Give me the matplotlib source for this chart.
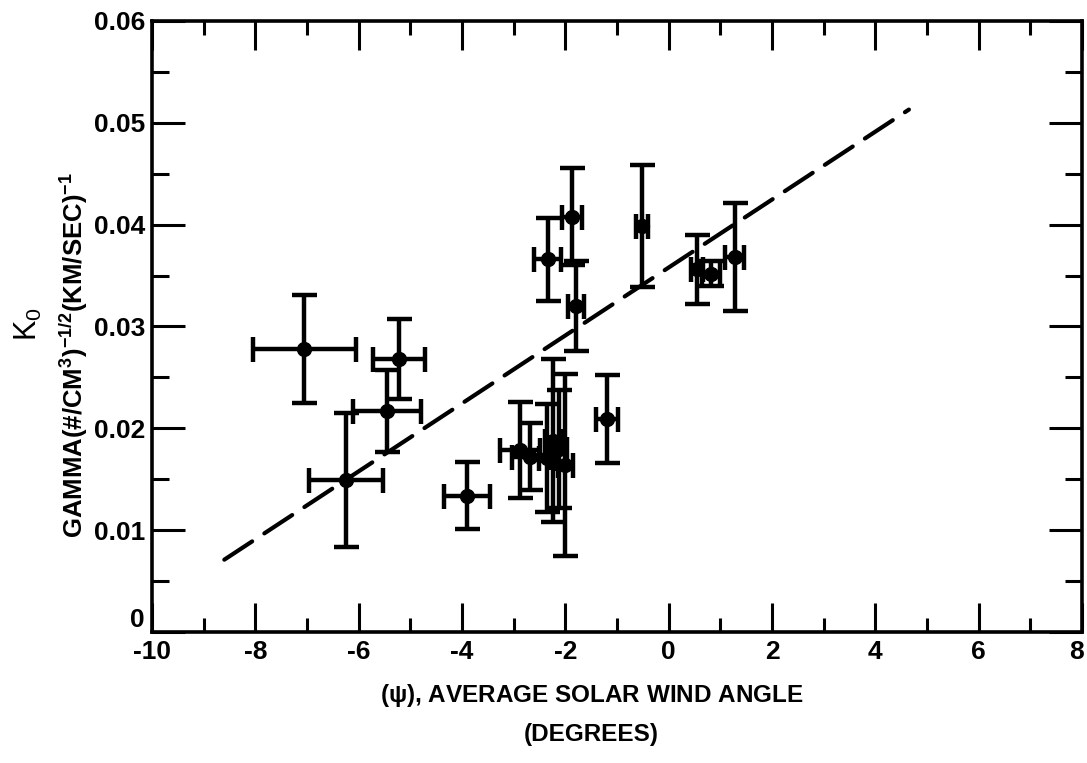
import matplotlib
matplotlib.use("Agg")
import matplotlib.pyplot as plt
import matplotlib.transforms as mtransforms
from matplotlib.ticker import MultipleLocator, FixedLocator, FixedFormatter

plt.rcParams['font.family'] = ['Liberation Sans', 'DejaVu Sans']
plt.rcParams['mathtext.default'] = 'regular'
plt.rcParams['axes.unicode_minus'] = False

# solar wind angle (deg) and K0 with their error bars
psi = [-7.05, -5.22, -5.45, -6.25, -3.9, -2.88, -2.68, -2.35, -2.24, -2.12, -2.0,
       -2.34, -1.87, -1.79, -0.52, 0.55, 0.82, 1.28, -1.19]
k0 = [0.0278, 0.0268, 0.0217, 0.0149, 0.0134, 0.0179, 0.0172, 0.0171, 0.0188, 0.0180, 0.0164,
      0.0366, 0.0408, 0.0320, 0.0399, 0.0356, 0.0352, 0.0368, 0.0209]
psi_err = [1.0, 0.5, 0.65, 0.72, 0.45, 0.39, 0.36, 0.15, 0.15, 0.15, 0.15,
           0.26, 0.19, 0.15, 0.12, 0.12, 0.18, 0.18, 0.21]
k0_err = [0.0053, 0.0039, 0.0040, 0.0066, 0.0033, 0.0047, 0.0033, 0.0053, 0.0080, 0.0058, 0.0089,
          0.0041, 0.0048, 0.0044, 0.0060, 0.0034, 0.0012, 0.0053, 0.0043]

# fitted line end points
fit_psi = [-8.6, 4.65]
fit_k0 = [0.0071, 0.0513]

xticks = [-10, -8, -6, -4, -2, 0, 2, 4, 6, 8]
yticks = [0, 0.01, 0.02, 0.03, 0.04, 0.05, 0.06]
ytick_labels = ['0', '0.01', '0.02', '0.03', '0.04', '0.05', '0.06']

fig = plt.figure(figsize=(10.87, 7.63), dpi=100)
ax = fig.add_axes([0.1398, 0.1717, 0.8556, 0.8008])

ax.plot(fit_psi, fit_k0, color='black', lw=3, dashes=(8, 3.5), dash_capstyle='round')
ax.errorbar(psi, k0, xerr=psi_err, yerr=k0_err, fmt='o', color='black', ms=10,
            elinewidth=3.2, capsize=9, capthick=3.2)

ax.set_xlim(-10, 8)
ax.set_ylim(0, 0.06)
ax.xaxis.set_major_locator(FixedLocator(xticks))
ax.xaxis.set_minor_locator(MultipleLocator(1))
ax.yaxis.set_major_locator(FixedLocator(yticks))
ax.yaxis.set_major_formatter(FixedFormatter(ytick_labels))
ax.yaxis.set_minor_locator(MultipleLocator(0.005))

for s in ax.spines.values():
    s.set_linewidth(2.6)
ax.tick_params(which='both', direction='in', top=True, right=True, width=2.2)
ax.tick_params(axis='x', which='major', length=21, labelsize=19, pad=6)
ax.tick_params(axis='x', which='minor', length=10)
ax.tick_params(axis='y', which='major', length=24, labelsize=19, pad=5)
ax.tick_params(axis='y', which='minor', length=12)
for lab in ax.get_xticklabels() + ax.get_yticklabels():
    lab.set_fontweight('bold')
# the zero on the y axis sits just above the corner
ax.yaxis.get_major_ticks()[0].label1.set_va('bottom')
# keep the last x label inside the figure
last = ax.xaxis.get_major_ticks()[-1].label1
last.set_transform(last.get_transform() + mtransforms.ScaledTranslation(-5 / 100, 0, fig.dpi_scale_trans))

fig.text(0.544, 0.089, r'($\psi$), AVERAGE SOLAR WIND ANGLE', ha='center', va='center',
         fontsize=17.5, fontweight='bold')
fig.text(0.544, 0.038, '(DEGREES)', ha='center', va='center', fontsize=17.5, fontweight='bold')
fig.text(0.026, 0.575, r'K$_0$', rotation=90, ha='center', va='center', fontsize=22)
fig.text(0.068, 0.535, r'GAMMA(#/CM$^3$)$^{-1/2}$(KM/SEC)$^{-1}$', rotation=90,
         ha='center', va='center', fontsize=18.5, fontweight='bold')

fig.savefig('out.png', dpi=100)
